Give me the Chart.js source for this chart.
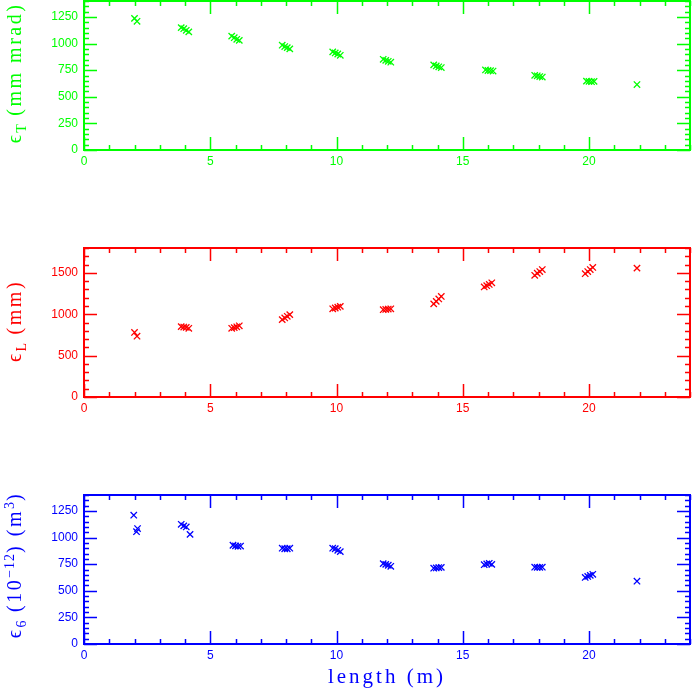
<!DOCTYPE html>
<html>
<head>
<meta charset="utf-8">
<script src="https://cdn.jsdelivr.net/npm/chart.js@4.4.1/dist/chart.umd.min.js"></script>
<style>
  body { margin: 0; background: #fff; }
  #page { position: relative; width: 692px; height: 692px; overflow: hidden; }
  canvas { position: absolute; left: 0; }
  .ytitle, .xtitle {
    position: absolute; white-space: nowrap;
    font-family: "Liberation Serif", "DejaVu Serif", serif; font-size: 20px; letter-spacing: 2.5px;
  }
  .ytitle { left: 16px; transform: translate(-50%, -50%) rotate(-90deg); }
  .xtitle { left: 387px; top: 676px; transform: translate(-50%, -50%); font-size: 21px; letter-spacing: 3px; color: #0000ff; }
  sub, sup { font-size: 70%; letter-spacing: 1px; }
</style>
</head>
<body>
<div id="page">
  <canvas id="transChart" width="692" height="175" style="top:0px"></canvas>
  <canvas id="longChart" width="692" height="175" style="top:247px"></canvas>
  <canvas id="sixChart" width="692" height="175" style="top:494px"></canvas>
  <div class="ytitle" style="top:73px;color:#00ff00">&#1013;<sub>T</sub> (mm mrad)</div>
  <div class="ytitle" style="top:321px;color:#ff0000">&#1013;<sub>L</sub> (mm)</div>
  <div class="ytitle" style="top:565px;color:#0000ff">&#1013;<sub>6</sub> (10<sup>&minus;12</sup>) (m<sup>3</sup>)</div>
  <div class="xtitle">length (m)</div>
</div>
<script>
// lengths along the channel (m) for each run
const lengthT = [2.0, 2.1, 3.85, 3.95, 4.05, 4.15, 5.85, 5.95, 6.05, 6.15, 7.85, 7.95, 8.05, 8.15,
  9.85, 9.95, 10.05, 10.15, 11.85, 11.95, 12.05, 12.15, 13.85, 13.95, 14.05, 14.15,
  15.9, 16.0, 16.1, 16.2, 17.85, 17.95, 18.05, 18.15, 19.9, 20.0, 20.1, 20.2, 21.9];
const emitT = [1237, 1209, 1150, 1140, 1125, 1110, 1070, 1055, 1040, 1030, 985, 972, 962, 950,
  922, 912, 902, 890, 852, 842, 833, 825, 800, 790, 782, 775,
  752, 747, 745, 742, 702, 697, 690, 685, 647, 645, 642, 645, 615];

const lengthL = [2.0, 2.1, 3.85, 3.95, 4.05, 4.15, 5.85, 5.95, 6.05, 6.15, 7.85, 7.95, 8.05, 8.15,
  9.85, 9.95, 10.05, 10.15, 11.85, 11.95, 12.05, 12.15, 13.85, 13.95, 14.05, 14.15,
  15.85, 15.95, 16.05, 16.15, 17.85, 17.95, 18.05, 18.15, 19.85, 19.95, 20.05, 20.15, 21.9];
const emitL = [780, 735, 850, 845, 840, 830, 830, 838, 848, 860, 935, 955, 975, 995,
  1065, 1075, 1085, 1095, 1055, 1058, 1062, 1065, 1125, 1155, 1185, 1215,
  1330, 1345, 1360, 1380, 1470, 1495, 1515, 1540, 1490, 1515, 1540, 1565, 1557];

const length6 = [1.97, 2.12, 2.08, 3.85, 3.95, 4.05, 4.2, 5.9, 6.0, 6.1, 6.2, 7.85, 7.95, 8.05, 8.15,
  9.85, 9.95, 10.05, 10.15, 11.85, 11.95, 12.05, 12.15, 13.85, 13.95, 14.05, 14.15,
  15.85, 15.95, 16.05, 16.15, 17.85, 17.95, 18.05, 18.15, 19.85, 19.95, 20.05, 20.15, 21.9];
const emit6 = [1210, 1085, 1055, 1125, 1110, 1100, 1030, 928, 922, 918, 920, 900, 895, 895, 900,
  900, 895, 880, 868, 755, 748, 740, 730, 712, 715, 718, 720,
  745, 752, 758, 748, 722, 720, 720, 722, 625, 635, 645, 655, 590];

const xMajor = 5;

// frame around the plot with inward ticks on all four sides
const frameTicks = {
  id: 'frameTicks',
  afterDraw(chart, args, opts) {
    const ctx = chart.ctx, a = chart.chartArea;
    const x = chart.scales.x, y = chart.scales.y;
    ctx.save();
    ctx.strokeStyle = opts.color;
    ctx.lineWidth = 1.5;
    ctx.beginPath();
    x.ticks.forEach(t => {
      const px = Math.round(x.getPixelForValue(t.value)) + 0.5;
      const len = t.value % xMajor === 0 ? 13 : 5;
      ctx.moveTo(px, a.bottom); ctx.lineTo(px, a.bottom - len);
      ctx.moveTo(px, a.top); ctx.lineTo(px, a.top + len);
    });
    y.ticks.forEach(t => {
      const py = Math.round(y.getPixelForValue(t.value)) + 0.5;
      const len = t.value % opts.major === 0 ? 13 : 5;
      ctx.moveTo(a.left, py); ctx.lineTo(a.left + len, py);
      ctx.moveTo(a.right, py); ctx.lineTo(a.right - len, py);
    });
    ctx.stroke();
    ctx.lineWidth = 2;
    ctx.strokeRect(a.left, a.top, a.right - a.left, a.bottom - a.top);
    ctx.restore();
  }
};

function noPad(s) {
  s.paddingTop = 0; s.paddingBottom = 0; s.paddingLeft = 0; s.paddingRight = 0;
}

function makePanel(id, xs, ys, color, yMax, yStep, yMajor) {
  new Chart(document.getElementById(id).getContext('2d'), {
    type: 'scatter',
    data: {
      datasets: [{
        data: xs.map((v, i) => ({ x: v, y: ys[i] })),
        pointStyle: 'crossRot',
        pointRadius: 4.5,
        pointHoverRadius: 4.5,
        borderColor: color,
        backgroundColor: color,
        borderWidth: 1.3
      }]
    },
    options: {
      responsive: false,
      animation: false,
      layout: { autoPadding: false, padding: { top: 1, right: 2, left: 0, bottom: 0 } },
      plugins: {
        legend: { display: false },
        tooltip: { enabled: false },
        frameTicks: { color: color, major: yMajor }
      },
      scales: {
        x: {
          type: 'linear', min: 0, max: 24,
          grid: { display: false, drawTicks: false },
          border: { display: false },
          afterFit: s => { s.height = 25; noPad(s); },
          ticks: {
            stepSize: 1, autoSkip: false, maxRotation: 0, padding: 4,
            color: color, font: { family: 'Liberation Sans', size: 12 },
            callback: v => (v % xMajor === 0 ? v : '')
          }
        },
        y: {
          type: 'linear', min: 0, max: yMax,
          grid: { display: false, drawTicks: false },
          border: { display: false },
          afterFit: s => { s.width = 84; noPad(s); },
          ticks: {
            stepSize: yStep, autoSkip: false, padding: 6,
            color: color, font: { family: 'Liberation Sans', size: 12 },
            callback: v => (v % yMajor === 0 ? v : '')
          }
        }
      }
    },
    plugins: [frameTicks]
  });
}

makePanel('transChart', lengthT, emitT, '#00ff00', 1400, 50, 250);
makePanel('longChart', lengthL, emitL, '#ff0000', 1800, 100, 500);
makePanel('sixChart', length6, emit6, '#0000ff', 1400, 50, 250);
</script>
</body>
</html>
